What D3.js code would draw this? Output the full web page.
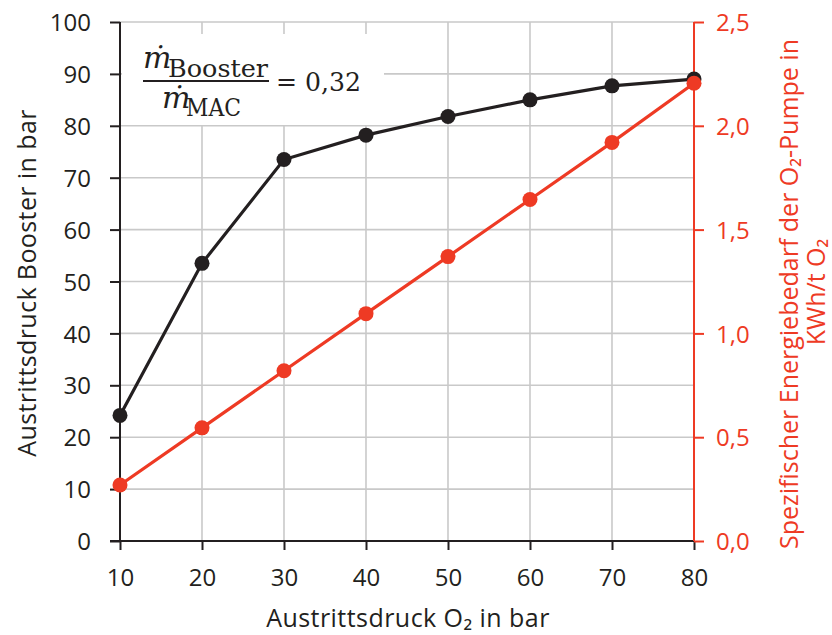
<!DOCTYPE html>
<html><head><meta charset="utf-8">
<script src="https://cdn.jsdelivr.net/npm/d3@7"></script>
<style>body{margin:0;background:#fff}svg{display:block}text{font-family:"Open Sans",sans-serif}</style>
</head><body><svg id="c" width="832" height="635"></svg>
<script>
const xValues = [10, 20, 30, 40, 50, 60, 70, 80];
const boosterPressure = [24.2, 53.5, 73.5, 78.2, 81.8, 85.0, 87.7, 89.0];
const pumpEnergy = [0.27, 0.545, 0.82, 1.095, 1.37, 1.645, 1.92, 2.205];
const xTicks = [10, 20, 30, 40, 50, 60, 70, 80];
const yLeftTicks = [0, 10, 20, 30, 40, 50, 60, 70, 80, 90, 100];
const yRightTicks = [0, 0.5, 1.0, 1.5, 2.0, 2.5];
const xTitle = "Austrittsdruck O₂ in bar";
const yLeftTitle = "Austrittsdruck Booster in bar";
const yRightTitle = ["Spezifischer Energiebedarf der O₂-Pumpe in", "KWh/t O₂"];

const BLACK = "#231f20", RED = "#ee3a24", GRID = "#c9c9c9";
const svg = d3.select("#c");
const L = 120, R = 694, T = 22, B = 541;
const x = d3.scaleLinear().domain([10, 80]).range([L, R]);
const yL = d3.scaleLinear().domain([0, 100]).range([B, T]);
const yR = d3.scaleLinear().domain([0, 2.5]).range([B, T]);
const fmt = d3.format(".1f");

// grid
const g = svg.append("g");
g.selectAll(".hg").data(yLeftTicks.slice(1)).join("line")
  .attr("x1", L).attr("x2", R).attr("y1", d => yL(d)).attr("y2", d => yL(d))
  .attr("stroke", GRID).attr("stroke-width", 1.6);
g.selectAll(".vg").data(xTicks.slice(1, -1)).join("line")
  .attr("x1", d => x(d)).attr("x2", d => x(d)).attr("y1", T).attr("y2", B)
  .attr("stroke", GRID).attr("stroke-width", 1.6);

// formula background
svg.append("rect").attr("x", L + 2).attr("y", 34).attr("width", 262).attr("height", 91).attr("fill", "#fff");

// axes
const axX = svg.append("g").attr("transform", `translate(0,${B})`)
  .call(d3.axisBottom(x).tickValues(xTicks).tickSize(9).tickFormat(d3.format("d")));
const axL = svg.append("g").attr("transform", `translate(${L},0)`)
  .call(d3.axisLeft(yL).tickValues(yLeftTicks).tickSize(10).tickPadding(19).tickFormat(d3.format("d")));
const axR = svg.append("g").attr("transform", `translate(${R},0)`)
  .call(d3.axisRight(yR).tickValues(yRightTicks).tickSize(10).tickPadding(12).tickFormat(d => fmt(d).replace(".", ",")));
[axX, axL].forEach(a => {
  a.selectAll("path,line").attr("stroke", BLACK).attr("stroke-width", 2);
  a.selectAll("text").attr("fill", BLACK).style("font-size", "24px");
});
axX.selectAll("text").attr("y", 45).attr("dy", 0);
axX.select(".domain").attr("d", `M${L - 10},0H${R}`);
axL.select(".domain").attr("d", `M0,${T}V${B}`);
axR.selectAll("path,line").attr("stroke", RED).attr("stroke-width", 2);
axR.select(".domain").attr("d", `M0,${T}V${B}`);
axR.selectAll("text").attr("fill", RED).style("font-size", "24px");
axL.selectAll("text").attr("dy", "0.36em");
axR.selectAll("text").attr("dy", "0.36em");

// lines
const lineB = d3.line().x((d, i) => x(xValues[i])).y(d => yL(d));
const lineR = d3.line().x((d, i) => x(xValues[i])).y(d => yR(d));
svg.append("path").datum(boosterPressure).attr("d", lineB).attr("fill", "none").attr("stroke", BLACK).attr("stroke-width", 3.2);
svg.selectAll(".pb").data(boosterPressure).join("circle")
  .attr("cx", (d, i) => x(xValues[i])).attr("cy", d => yL(d)).attr("r", 7.5).attr("fill", BLACK);
svg.append("path").datum(pumpEnergy).attr("d", lineR).attr("fill", "none").attr("stroke", RED).attr("stroke-width", 3.2);
svg.selectAll(".pr").data(pumpEnergy).join("circle")
  .attr("cx", (d, i) => x(xValues[i])).attr("cy", d => yR(d)).attr("r", 7.5).attr("fill", RED);

// titles
svg.append("text").attr("x", 408).attr("y", 627).attr("text-anchor", "middle")
  .attr("fill", BLACK).style("font-size", "25px").style("letter-spacing", "0.45px").text(xTitle);
svg.append("text").attr("transform", "translate(36,283) rotate(-90)").attr("text-anchor", "middle")
  .attr("fill", BLACK).style("font-size", "25px").style("letter-spacing", "0.4px").text(yLeftTitle);
yRightTitle.forEach((t, i) => {
  svg.append("text").attr("transform", `translate(${798 + i * 27},${i === 0 ? 294 : 292}) rotate(-90)`).attr("text-anchor", "middle")
    .attr("fill", RED).style("font-size", "25px").text(t);
});

// formula
const serif = "'DejaVu Serif','Liberation Serif',serif";
const f = svg.append("g").style("font-family", serif).attr("fill", BLACK);
f.append("text").attr("x", 143).attr("y", 68).style("font-size", "30px").style("font-family", serif)
  .style("font-style", "italic").text("ṁ");
f.append("text").attr("x", 168).attr("y", 77).attr("textLength", 100).attr("lengthAdjust", "spacingAndGlyphs")
  .style("font-size", "25px").style("font-family", serif).text("Booster");
f.append("line").attr("x1", 143).attr("x2", 269).attr("y1", 81).attr("y2", 81).attr("stroke", BLACK).attr("stroke-width", 2);
f.append("text").attr("x", 162).attr("y", 108).style("font-size", "30px").style("font-family", serif)
  .style("font-style", "italic").text("ṁ");
f.append("text").attr("x", 186).attr("y", 116).attr("textLength", 55).attr("lengthAdjust", "spacingAndGlyphs")
  .style("font-size", "25px").style("font-family", serif).text("MAC");
f.append("text").attr("x", 276).attr("y", 91).attr("textLength", 85).attr("lengthAdjust", "spacingAndGlyphs")
  .style("font-size", "26px").style("font-family", serif).text("= 0,32");
</script></body></html>
